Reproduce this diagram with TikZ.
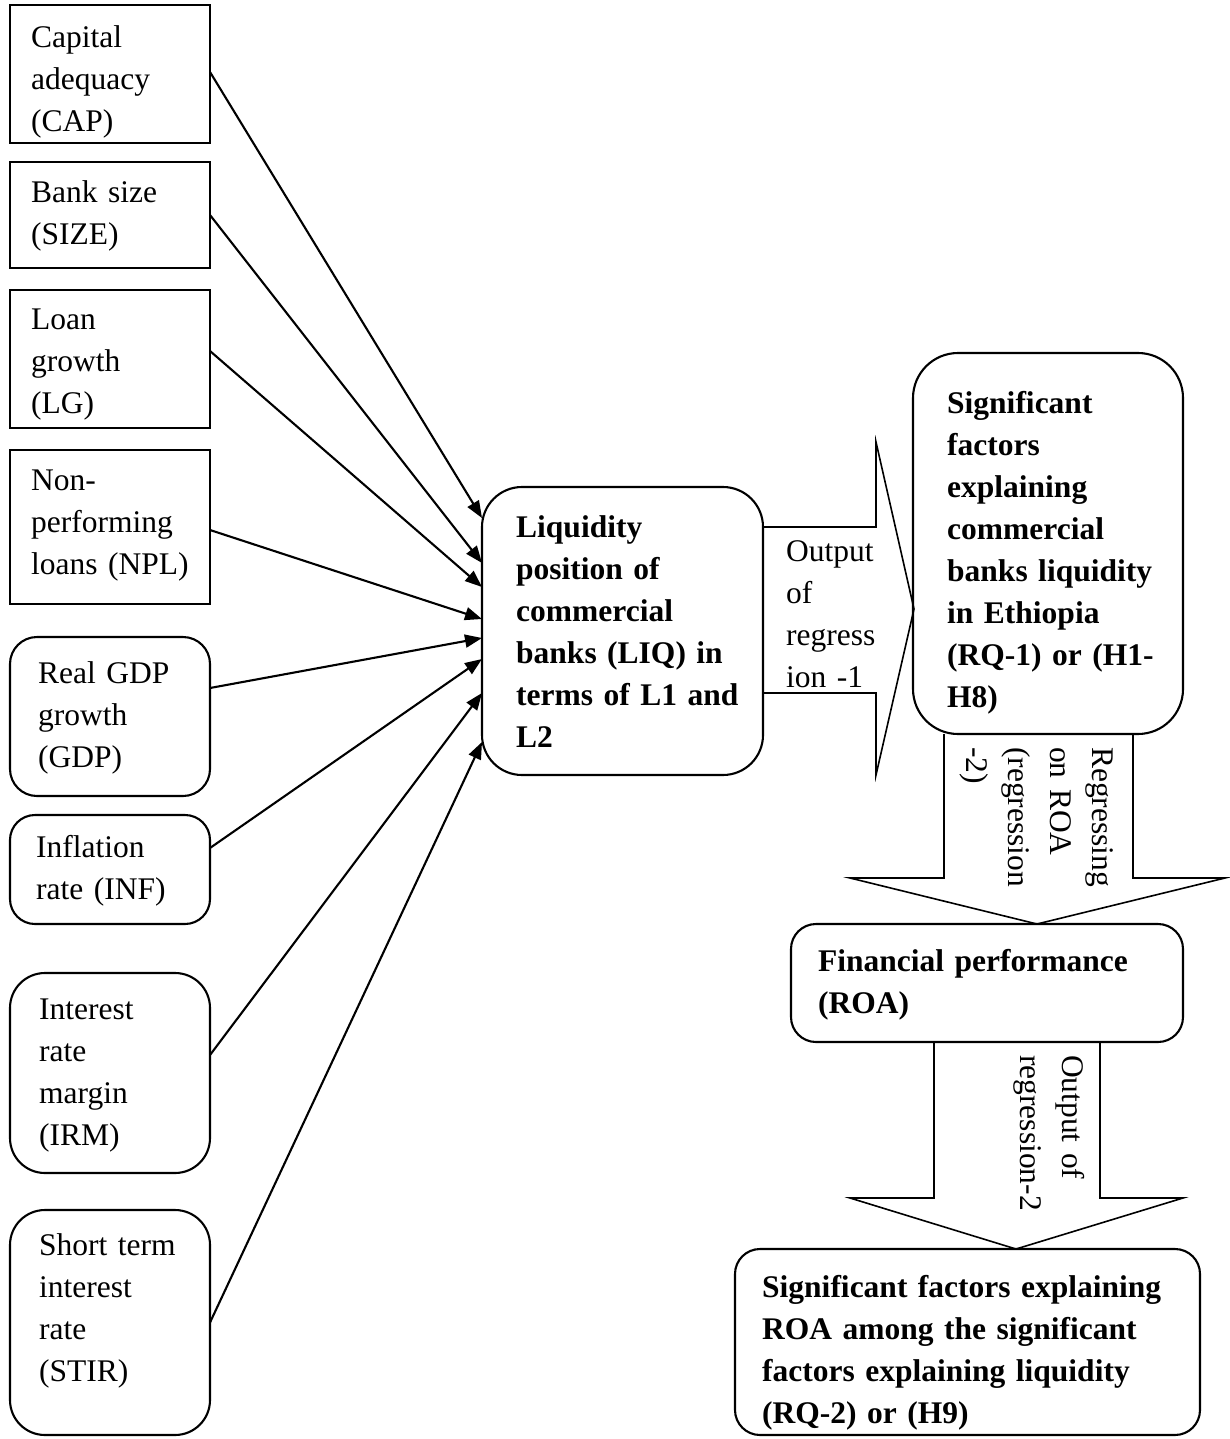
\documentclass[tikz,border=0pt]{standalone}
\usepackage{fontspec}
\setmainfont{Liberation Serif}
\usetikzlibrary{arrows.meta,fit}
\begin{document}
\begin{tikzpicture}[x=1pt,y=-1pt,
  box/.style={draw,line width=2.1pt,inner sep=0pt,outer sep=0pt},
  rbox/.style={box,rounded corners=#1},
  txt/.style={anchor=base west,align=left,text width=420pt,inner sep=0pt,font=\fontsize{31.5}{42}\selectfont},
  btxt/.style={txt,font=\fontsize{31.5}{42}\selectfont\bfseries},
  rtxt/.style={txt,rotate=-90},
  arr/.style={line width=2.1pt,-{Triangle[length=17pt,width=13pt]}},
  bigarrow/.style={draw,line width=1.6pt,line join=miter}
]
\useasboundingbox (0,0) rectangle (1230,1439);

% input boxes
\node[box, fit={(10,5)(210,143)}] (cap) {};
\node[box, fit={(10,162)(210,268)}] (size) {};
\node[box, fit={(10,290)(210,428)}] (lg) {};
\node[box, fit={(10,450)(210,604)}] (npl) {};
\node[rbox=27pt, fit={(10,637)(210,796)}] (gdp) {};
\node[rbox=25pt, fit={(10,815)(210,924)}] (inf) {};
\node[rbox=35pt, fit={(10,973)(210,1173)}] (irm) {};
\node[rbox=35pt, fit={(10,1210)(210,1435)}] (stir) {};

% main boxes
\node[rbox=40pt, fit={(482,487)(763,775)}] (liq) {};
\node[rbox=45pt, fit={(913,353)(1183,734)}] (sig) {};
\node[rbox=25pt, fit={(791,924)(1183,1042)}] (fin) {};
\node[rbox=25pt, fit={(735,1249)(1200,1435)}] (res) {};

% texts
\node[txt] (tcap) at (31,48) {Capital\\adequacy\\(CAP)};
\node[txt] (tsize) at (31,203) {Bank size\\(SIZE)};
\node[txt] (tlg) at (31,329) {Loan\\growth\\(LG)};
\node[txt] (tnpl) at (31,490) {Non-\\performing\\loans (NPL)};
\node[txt] (tgdp) at (38,683) {Real GDP\\growth\\(GDP)};
\node[txt] (tinf) at (36,857) {Inflation\\rate (INF)};
\node[txt] (tirm) at (39,1019) {Interest\\rate\\margin\\(IRM)};
\node[txt] (tstir) at (39,1255) {Short term\\interest\\rate\\(STIR)};
\node[btxt] (tliq) at (516,537) {Liquidity\\position of\\commercial\\banks (LIQ) in\\terms of L1 and\\L2};
\node[btxt] (tsig) at (947,413) {Significant\\factors\\explaining\\commercial\\banks liquidity\\in Ethiopia\\(RQ-1) or (H1-\\H8)};
\node[btxt] (tfin) at (818,971) {Financial performance\\(ROA)};
\begin{scope}
\clip (720,1240) rectangle (1230,1429);
\node[btxt] (tres) at (762,1297) {Significant factors explaining\\ROA among the significant\\factors explaining liquidity\\(RQ-2) or (H9)};
\end{scope}

% connectors
\draw[arr] ([yshift=2pt]cap.east) -- ([yshift=113pt]liq.west);
\draw[arr] (size.east) -- ([yshift=68pt]liq.west);
\draw[arr] ([yshift=8pt]lg.east) -- ([yshift=44pt]liq.west);
\draw[arr] ([yshift=-3pt]npl.east) -- ([yshift=12pt]liq.west);
\draw[arr] ([yshift=28.5pt]gdp.east) -- ([yshift=-7pt]liq.west);
\draw[arr] ([yshift=21.5pt]inf.east) -- ([yshift=-28pt]liq.west);
\draw[arr] ([yshift=18pt]irm.east) -- ([yshift=-62pt]liq.west);
\draw[arr] (stir.east) -- ([yshift=-111pt]liq.west);

% block arrows
\draw[bigarrow] (763,527) -- (876,527) -- (876,442) -- (914,609) -- (876,775) -- (876,693) -- (763,693);
\draw[bigarrow] (944,734) -- (944,878) -- (850,878) -- (1037,924) -- (1225,878) -- (1133,878) -- (1133,734);
\draw[bigarrow] (934,1042) -- (934,1198) -- (850,1198) -- (1016,1249) -- (1183,1198) -- (1100,1198) -- (1100,1042);

% arrow labels
\node[txt] (tout1) at (786,561) {Output\\of\\regress\\ion -1};
\node[rtxt] (treg) at (1092,747) {Regressing\\on ROA\\(regression\\-2)};
\node[rtxt] (tout2) at (1062,1055) {Output of\\regression-2};
\end{tikzpicture}
\end{document}
